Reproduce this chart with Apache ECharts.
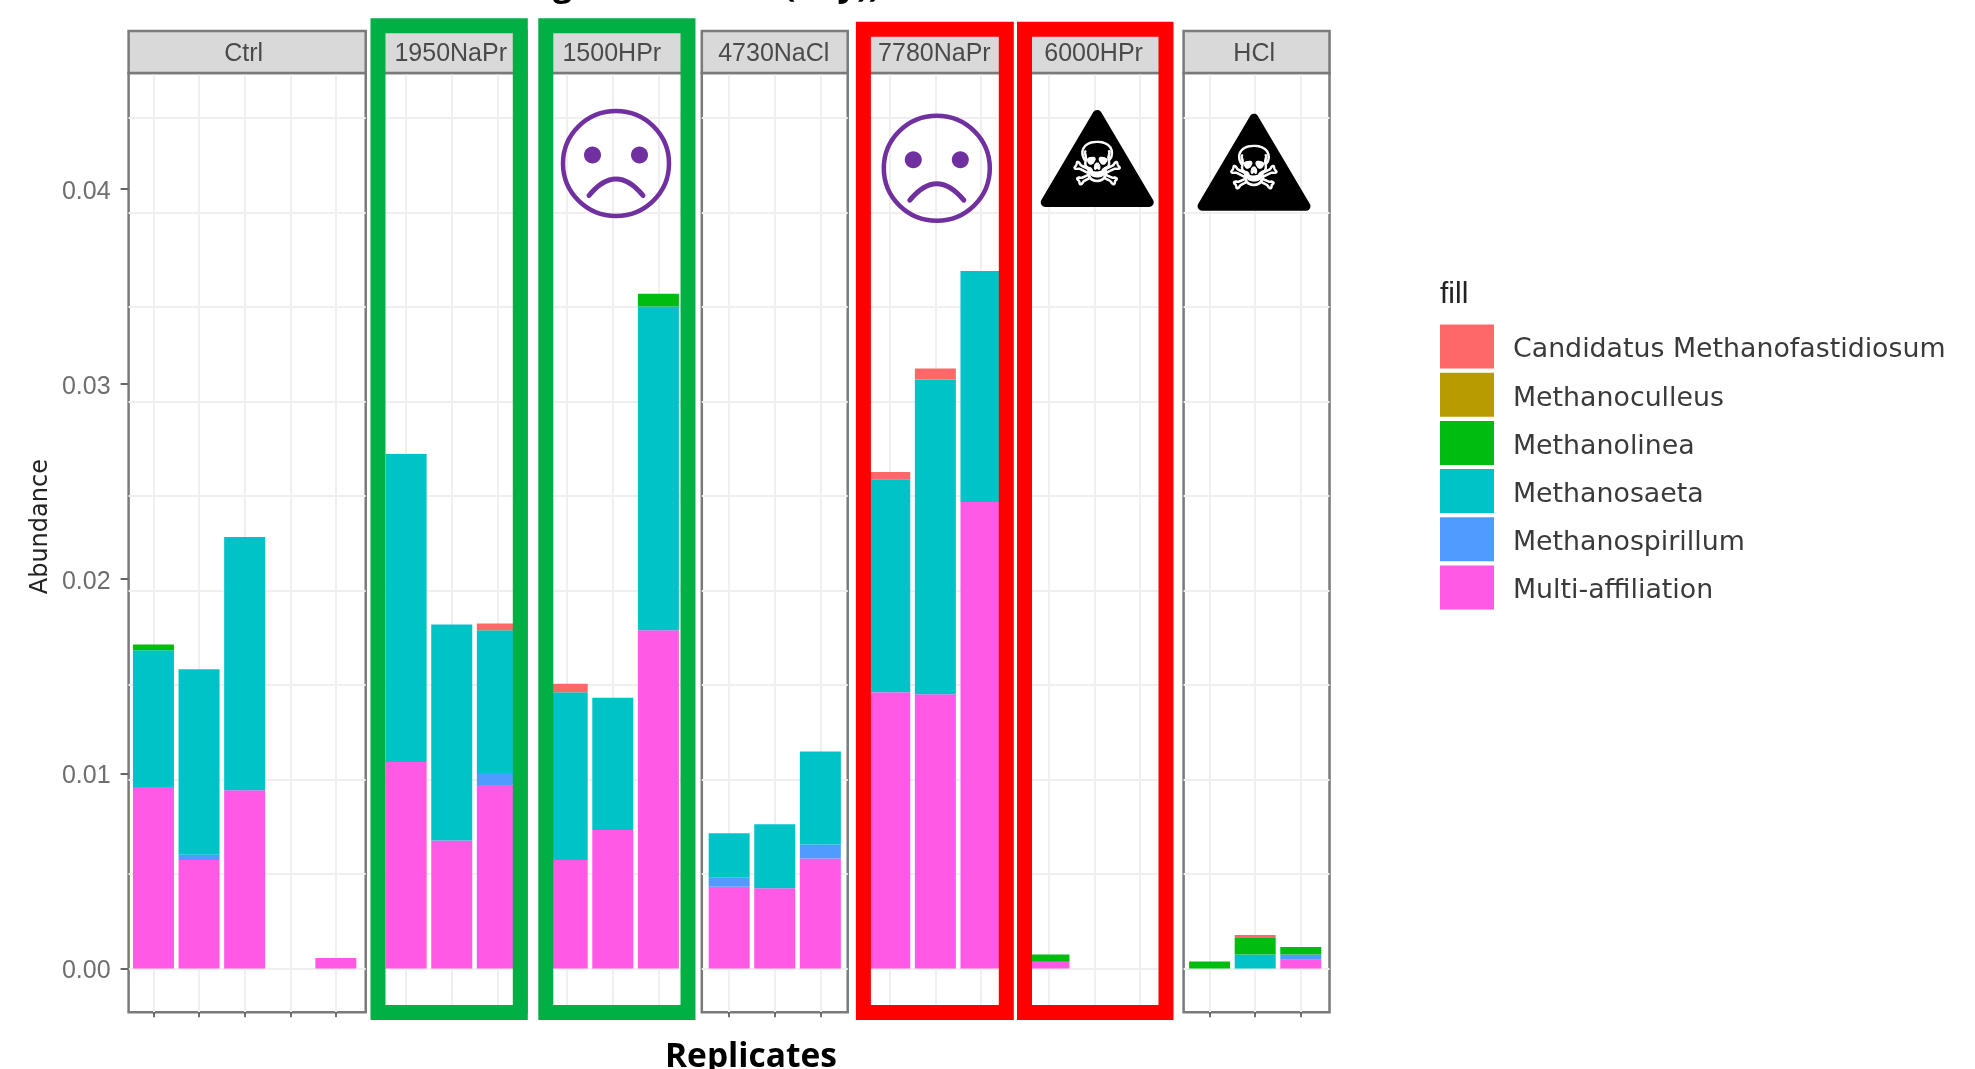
<!DOCTYPE html>
<html><head><meta charset="utf-8">
<style>html,body{margin:0;padding:0;background:#fff}#c{width:1975px;height:1069px}#c canvas{filter:blur(0.6px)}</style>
<script src="https://cdn.jsdelivr.net/npm/echarts@6/dist/echarts.min.js"></script>
</head><body><div id="c"></div>
<script>
const panels = ['Ctrl','1950NaPr','1500HPr','4730NaCl','7780NaPr','6000HPr','HCl'];
const replicateCounts = [5,3,3,3,3,3,3];
const yTicks = [0,0.01,0.02,0.03,0.04];
const genera = ['Candidatus Methanofastidiosum','Methanoculleus','Methanolinea','Methanosaeta','Methanospirillum','Multi-affiliation'];
const colors = ['#ff6868','#b89b00','#00bb10','#00c3c8','#4f9bff','#ff59e6'];

const candidatus = [[0,0,0,0,0],[0,0,0.00035],[0.00044,0,0],[0,0,0],[0.00037,0.00057,0],[0,0,0],[0,0.00016,0]];
const culleus    = [[0,0,0,0,0],[0,0,0],[0,0,0],[0,0,0],[0,0,0],[0,0,0],[0,0,0]];
const linea      = [[0.0003,0,0,0,0],[0,0,0],[0,0,0.00065],[0,0,0],[0,0,0],[0.00038,0,0],[0.00036,0.00084,0.00038]];
const saeta      = [[0.00702,0.00953,0.01299,0,0],[0.0158,0.01108,0.00732],[0.0086,0.00678,0.01662],[0.00229,0.00328,0.00478],[0.01093,0.01615,0.01186],[0,0,0],[0,0.00072,0]];
const spirillum  = [[0,0.00026,0,0,0],[0,0,0.00062],[0,0,0],[0.00046,0,0.00071],[0,0,0],[0,0,0],[0,0,0.00027]];
const multi      = [[0.00931,0.00557,0.00915,0,0.00054],[0.0106,0.00657,0.00941],[0.00557,0.00711,0.01735],[0.00419,0.00412,0.00565],[0.01417,0.01407,0.02393],[0.00034,0,0],[0,0,0.00045]];
const byGenus = [candidatus,culleus,linea,saeta,spirillum,multi];

// layout of the facets (pixels)
const PANEL_TOP=73, PANEL_H=939.3, UNIT=45.6;
const widths = replicateCounts.map(n=>(n+0.2)*UNIT);
const lefts = [128.6,380.6,541.2,701.8,862.4,1023,1183.6];
const xShift = [0.055,0.04,0.03,0,0,0.03,0.03];
const ZERO_Y=968.5, PX_PER_UNIT=19490, GRID_PX=18900, GRID_STEP=0.005;
const yMax=(ZERO_Y-PANEL_TOP)/PX_PER_UNIT, yMin=(ZERO_Y-(PANEL_TOP+PANEL_H))/PX_PER_UNIT;
const gMax=(ZERO_Y-PANEL_TOP)/GRID_PX, gMin=(ZERO_Y-(PANEL_TOP+PANEL_H))/GRID_PX;
const gridLineValues=[0,1,2,3,4,5,6,7,8,9].map(i=>i*GRID_STEP);
const AXIS_GREY='#7a7a7a', GRID_GREY='#efefef';
const ARIAL='"Liberation Sans",Arial,sans-serif';

const grid=[],xAxis=[],yAxis=[],series=[];
panels.forEach((p,i)=>{
  const n=replicateCounts[i];
  const xs=Array.from({length:n},(_,k)=>k+1);
  grid.push({left:lefts[i],top:PANEL_TOP,width:widths[i],height:PANEL_H,outerBoundsMode:'none',show:true,backgroundColor:'#fff',borderColor:AXIS_GREY,borderWidth:2.5});
  xAxis.push({type:'value',gridIndex:i,min:0.4+xShift[i],max:n+0.6+xShift[i],
    axisLine:{show:false,onZero:false},axisLabel:{show:false},
    axisTick:{show:true,length:5,customValues:xs,lineStyle:{color:'#444',width:1.5}},
    splitLine:{show:true,lineStyle:{color:GRID_GREY,width:2}}});
  yAxis.push({type:'value',gridIndex:i,min:yMin,max:yMax,position:'left',
    name:i===0?'Abundance':'',nameLocation:'middle',nameGap:76,
    nameTextStyle:{fontFamily:'"DejaVu Sans",sans-serif',fontSize:24,color:'#222',padding:[0,0,0,32]},
    axisLine:{show:false,onZero:false},splitLine:{show:false},
    axisTick:{show:i===0,length:8,customValues:yTicks,lineStyle:{color:'#666',width:2}},
    axisLabel:{show:i===0,customValues:yTicks,margin:18,fontFamily:ARIAL,fontSize:25,color:'#6e6e6e',
      formatter:v=>'{a|'+v.toFixed(2)+'}',rich:{a:{padding:[6,0,0,0],fontFamily:ARIAL,fontSize:25,color:'#6e6e6e'}}}});
  yAxis.push({type:'value',gridIndex:i,min:gMin,max:gMax,position:'right',
    axisLine:{show:false,onZero:false},axisLabel:{show:false},
    axisTick:{show:false,customValues:gridLineValues},
    splitLine:{show:true,lineStyle:{color:GRID_GREY,width:2}}});
  for(let g=genera.length-1;g>=0;g--){
    series.push({type:'bar',name:genera[g],xAxisIndex:i,yAxisIndex:i*2,stack:'p'+i,barWidth:41,
      encode:{x:1,y:0},
      itemStyle:{color:colors[g]},silent:true,
      data:byGenus[g][i].map((v,k)=>[v,k+1])});
  }
});

const Z=100, g=[];
// facet strips
panels.forEach((p,i)=>{
  g.push({type:'rect',z:Z-5,shape:{x:lefts[i],y:31,width:widths[i],height:PANEL_TOP-31},style:{fill:'#d9d9d9',stroke:AXIS_GREY,lineWidth:2.5}});
  g.push({type:'text',z:Z-4,x:lefts[i]+widths[i]/2-1-xShift[i]*UNIT,y:54,style:{text:p,fill:'#4a4a4a',font:'25px '+ARIAL,textAlign:'center',textVerticalAlign:'middle'}});
});
// highlight boxes
[[378,25.8,142.3,986.8,'#00b045'],[545.8,25.8,142.2,986.8,'#00b045'],[863.4,29.2,142.9,983.4,'#ff0000'],[1024.5,29.2,141.5,983.4,'#ff0000']].forEach(b=>{
  g.push({type:'rect',z:Z,shape:{x:b[0],y:b[1],width:b[2],height:b[3]},style:{fill:'none',stroke:b[4],lineWidth:15}});
});
// sad faces
[[616,163.5],[936.8,168.2]].forEach(c=>{
  const P='#7030a0';
  g.push({type:'ellipse',z:Z,shape:{cx:c[0],cy:c[1],rx:53,ry:52.5},style:{fill:'none',stroke:P,lineWidth:4.5}});
  g.push({type:'ellipse',z:Z,shape:{cx:c[0]-23.5,cy:c[1]-8.5,rx:8.5,ry:8.5},style:{fill:P}});
  g.push({type:'ellipse',z:Z,shape:{cx:c[0]+23.5,cy:c[1]-8.5,rx:8.5,ry:8.5},style:{fill:P}});
  g.push({type:'bezierCurve',z:Z,shape:{x1:c[0]-27,y1:c[1]+32,x2:c[0]+27,y2:c[1]+32,cpx1:c[0],cpy1:c[1]-1},style:{fill:'none',stroke:P,lineWidth:5,lineCap:'round'}});
});
// poison signs
[[1097.2,107.4],[1254,111.2]].forEach(a=>{
  g.push({type:'polygon',z:Z,shape:{points:[[a[0],a[1]+7],[a[0]-52,a[1]+95],[a[0]+52,a[1]+95]]},style:{fill:'#000',stroke:'#000',lineWidth:9,lineJoin:'round'}});
  g.push({type:'text',z:Z+1,x:a[0],y:a[1]+62,style:{text:'\u2620',fill:'#fff',stroke:'#fff',lineWidth:1,font:'60px "DejaVu Sans"',textAlign:'center',textVerticalAlign:'middle'}});
});
// cropped title and x axis title
g.push({type:'text',z:Z,x:553,y:3,style:{text:'g',fill:'#000',font:'bold 34px "Open Sans"',textAlign:'left',textVerticalAlign:'bottom'}});
g.push({type:'text',z:Z,x:880,y:3,style:{text:'(day))',fill:'#000',font:'bold 34px "Open Sans"',textAlign:'right',textVerticalAlign:'bottom'}});
g.push({type:'text',z:Z,x:751,y:1057,style:{text:'Replicates',fill:'#000',font:'bold 33.5px "Open Sans"',textAlign:'center',textVerticalAlign:'middle'}});
g.push({type:'text',z:Z,x:1440,y:295,style:{text:'fill',fill:'#222',font:'30px '+ARIAL,textAlign:'left',textVerticalAlign:'middle'}});

const chart=echarts.init(document.getElementById('c'));
chart.setOption({animation:false,backgroundColor:'#fff',grid,xAxis,yAxis,series,graphic:g,
  legend:{data:genera,orient:'vertical',left:1440,top:324.5,padding:0,itemWidth:54,itemHeight:44,itemGap:4.2,icon:'rect',selectedMode:false,
    formatter:n=>'{t|'+n+'}',
    textStyle:{rich:{t:{fontFamily:'"DejaVu Sans",sans-serif',fontSize:26.8,color:'#3a3a3a',padding:[8,0,0,14]}}}}});
</script></body></html>
